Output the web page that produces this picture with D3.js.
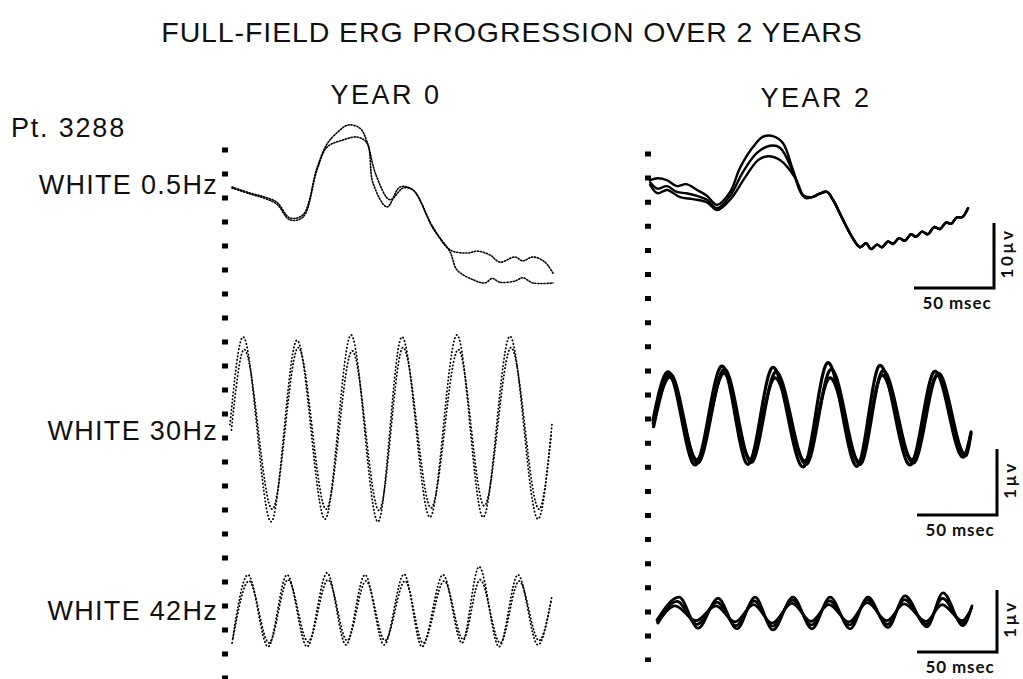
<!DOCTYPE html>
<html>
<head>
<meta charset="utf-8">
<script src="https://cdn.jsdelivr.net/npm/d3@7"></script>
<style>
	html, body { margin: 0; padding: 0; background: #fff; }
	svg { display: block; }
	text { font-family: "Liberation Sans", Arial, Helvetica, sans-serif; fill: #111; }
	.bar-label { font-family: Lato, "Open Sans", sans-serif; font-weight: 700; }
</style>
</head>
<body>
<svg id="erg-chart" width="1023" height="679"></svg>
<script>
// ---- data: [ms after flash, microvolts] ----
var title = 'FULL-FIELD ERG PROGRESSION OVER 2 YEARS';
var yearLabels = ['YEAR 0', 'YEAR 2'];
var patientLabel = 'Pt. 3288';
var rowLabels = ['WHITE 0.5Hz', 'WHITE 30Hz', 'WHITE 42Hz'];
var scaleBarMs = 50;
var scaleBarUv = [10, 1, 1];
var scaleBarUvLabels = ['10µv', '1µv', '1µv'];
var scaleBarMsLabel = '50 msec';

var year0Flash = [
	[[4.4,0.46],[15.6,-0.46],[25,-1.1],[32.5,-1.9],[40.6,-4.3],[48.8,-3.8],[57.5,3.4],[63.8,7.1],[70,8.8],[76.9,10],[84.4,9.5],[88.8,7.4],[94.4,2.3],[103.1,-1.5],[111.3,0.3],[117.5,0],[130,-5.7],[140.6,-9.2],[151.3,-9.7],[158,-9.4],[165.6,-10],[171.9,-11.1],[181.3,-10.3],[186,-10.9],[192.5,-10.3],[200,-11.1],[205,-12.8]],
	[[4.4,0.3],[15.6,-0.6],[25,-1.3],[32.5,-2.2],[40.6,-4.6],[48.8,-4.15],[57.5,3.08],[63.8,6.6],[73.8,7.7],[82.5,8.15],[88.8,7.2],[92.5,1.08],[101.3,-2.6],[109.4,0.46],[117.5,0],[130,-5.9],[140.6,-9.5],[145,-12.3],[155,-13.8],[162.5,-14.3],[167,-13.6],[171.9,-14.2],[181.3,-14],[186,-13.5],[192.5,-14.3],[205,-14.3]]
];

var year2Flash = [
	[[1.3,1.5],[6,1.8],[11.9,1.5],[18,0.6],[24,0.9],[30.6,0],[36.9,-0.9],[43.1,-2.3],[51.3,-0.3],[57.5,3.4],[65.6,6.6],[71.9,8.2],[78.1,8.3],[84.4,7.2],[90.6,3.1],[96.9,-0.8]],
	[[1.3,1.2],[6,0.2],[11.9,0.6],[18,-0.3],[24,-0.5],[30.6,-0.9],[36.9,-1.5],[43.1,-2.8],[51.3,-0.9],[59.4,2.8],[68.1,5.7],[76.3,6.8],[82.5,6.5],[90.6,2.8],[96.9,-0.9]],
	[[1.3,0.8],[6,-0.5],[11.9,0],[20,-1.1],[28,-1.4],[36.9,-1.9],[43.1,-3.1],[51.3,-1.5],[60.6,1.9],[68.8,4.6],[75,5.2],[82.5,4.6],[91.9,1.9],[98.1,-1.2]]
];
var year2FlashTail = [[102.5,-1.1],[107,-0.6],[111.9,-0.3],[115.6,-1.5],[121.9,-4.6],[127.5,-7.2],[132.5,-8.8],[136.3,-8.2],[139.4,-9.1],[143.1,-8.4],[146.3,-8.8],[150,-7.9],[153.1,-8.3],[156.9,-7.4],[160.6,-7.8],[164.4,-6.8],[167.5,-7.2],[171.3,-6.4],[175,-6.8],[178.8,-5.7],[182.5,-6],[186.3,-5],[189.4,-5.2],[193.1,-4.2],[196.3,-4.2],[200,-2.8]];

var year0Flicker30 = [
	[[3.1,0.08],[11.3,1.41],[28.8,-1.39],[45,1.36],[62.5,-1.35],[78.8,1.44],[95.6,-1.39],[110.6,1.41],[128.1,-1.32],[145,1.44],[161.3,-1.32],[178.1,1.42],[195.6,-1.35],[204.4,0.1]],
	[[4,0],[12,1.22],[29.5,-1.2],[45.8,1.25],[63.2,-1.2],[79.5,1.2],[96.3,-1.22],[111.3,1.25],[128.8,-1.18],[145.8,1.22],[162,-1.15],[178.8,1.25],[196.3,-1.2],[204,-0.05]]
];

var year2Flicker30 = [
	[[3.1,0.15],[12.5,0.88],[29.4,-0.53],[46.3,0.97],[62.5,-0.52],[78.1,0.95],[96.9,-0.56],[112.5,1.02],[130.6,-0.55],[145,0.98],[163.8,-0.53],[179.4,0.89],[196.9,-0.41],[201.9,-0.03]],
	[[3.5,0.05],[13.5,0.8],[30.5,-0.45],[47.5,0.86],[63.8,-0.44],[79.4,0.79],[98,-0.47],[113.8,0.79],[132,-0.48],[146.3,0.83],[165,-0.45],[181,0.83],[198,-0.36],[201.5,-0.1]],
	[[3.3,0.1],[13.8,0.85],[31,-0.5],[47.8,0.92],[64.5,-0.49],[80,0.88],[98.8,-0.52],[114.5,0.92],[132.5,-0.52],[147,0.9],[165.8,-0.5],[181.5,0.86],[198.5,-0.39],[201.9,-0.05]]
];

var year0Flicker42 = [
	[[4.4,-0.5],[14.4,0.6],[26.9,-0.56],[38.8,0.6],[51.3,-0.56],[63.8,0.63],[75.6,-0.53],[87.5,0.6],[99.4,-0.53],[111.9,0.61],[123.1,-0.56],[136.3,0.6],[148.1,-0.5],[158.8,0.73],[171.3,-0.56],[183.1,0.6],[195.6,-0.53],[204.4,0.27]],
	[[5,-0.42],[15,0.5],[27.5,-0.5],[39.4,0.52],[51.9,-0.48],[64.4,0.52],[76.3,-0.46],[88.1,0.5],[100,-0.46],[112.5,0.5],[123.8,-0.5],[137,0.5],[148.8,-0.44],[159.4,0.52],[172,-0.5],[183.8,0.5],[196.3,-0.46],[204,0.2]]
];

var year2Flicker42 = [
	[[5.6,-0.13],[19.4,0.24],[31.3,-0.26],[43.8,0.22],[55.6,-0.27],[66.9,0.24],[78.1,-0.29],[90.6,0.24],[102.5,-0.27],[113.8,0.24],[126.3,-0.27],[137.5,0.24],[150,-0.25],[160.6,0.26],[174.4,-0.24],[184.4,0.31],[196.9,-0.22],[202.5,0.1]],
	[[6.2,-0.18],[17,0.1],[30,-0.14],[42.5,0.1],[54.4,-0.16],[66,0.12],[77.5,-0.18],[90,0.14],[101.9,-0.15],[113,0.12],[125.6,-0.16],[137,0.15],[149.4,-0.14],[160,0.13],[173.8,-0.15],[183.8,0.12],[196.3,-0.14],[202,0.05]],
	[[5.9,-0.16],[18.2,0.17],[30.6,-0.2],[43.1,0.16],[55,-0.22],[66.4,0.18],[77.8,-0.23],[90.3,0.19],[102.2,-0.21],[113.4,0.18],[126,-0.21],[137.2,0.2],[149.7,-0.2],[160.3,0.2],[174.1,-0.2],[184.1,0.22],[196.6,-0.18],[202.2,0.07]]
];

window.app = window.app || {};

app.ergChart = (function() {

	'use strict';

	var svg = d3.select('#erg-chart');

	// two columns share the time scale, each row has its own voltage scale
	var xScales = [
		d3.scaleLinear().domain([0, 220]).range([225, 225 + 220 * 1.6]),
		d3.scaleLinear().domain([0, 220]).range([648, 648 + 220 * 1.6])
	];
	var yScales = [
		d3.scaleLinear().domain([0, 10]).range([190, 125]),
		d3.scaleLinear().domain([0, 1]).range([430, 364]),
		d3.scaleLinear().domain([0, 1]).range([612, 550])
	];

	var styles = {
		year0Flash: { width: 1.6, dash: '1.2 1.8', curve: d3.curveCatmullRom.alpha(0.5) },
		year0Flicker: { width: 1.8, dash: '0.4 3.2', curve: d3.curveMonotoneX },
		year2Flash: { width: 2.4, dash: null, curve: d3.curveCatmullRom.alpha(0.5) },
		year2Flicker30: { width: 3.2, dash: '2.6 1', curve: d3.curveMonotoneX },
		year2Flicker42: { width: 2.7, dash: null, curve: d3.curveMonotoneX }
	};

	/**
	* draw a bundle of overlaid sweeps in one panel
	* @returns {undefined}
	*/
	var drawTraces = function(traces, col, row, style) {
		var x = xScales[col],
			y = yScales[row];

		var line = d3.line()
			.x(function(d) { return x(d[0]); })
			.y(function(d) { return y(d[1]); })
			.curve(style.curve);

		svg.append('g')
			.attr('class', 'traces')
			.selectAll('path')
			.data(traces)
			.enter()
			.append('path')
			.attr('d', line)
			.attr('fill', 'none')
			.attr('stroke', '#000')
			.attr('stroke-width', style.width)
			.attr('stroke-linecap', 'round')
			.attr('stroke-linejoin', 'round')
			.attr('stroke-dasharray', style.dash);
	};

	/**
	* dotted stimulus marker down each column
	* @returns {undefined}
	*/
	var drawMarkers = function() {
		var markers = [
			{ col: 0, top: 147.5, bottom: 680, gap: 19 },
			{ col: 1, top: 151.5, bottom: 662, gap: 19.1 }
		];
		svg.append('g')
			.selectAll('line')
			.data(markers)
			.enter()
			.append('line')
			.attr('x1', function(d) { return xScales[d.col](0); })
			.attr('x2', function(d) { return xScales[d.col](0); })
			.attr('y1', function(d) { return d.top; })
			.attr('y2', function(d) { return d.bottom; })
			.attr('stroke', '#000')
			.attr('stroke-width', 6)
			.attr('stroke-dasharray', function(d) { return '5 ' + d.gap; });
	};

	/**
	* L shaped calibration bars on the right
	* @returns {undefined}
	*/
	var drawScaleBars = function() {
		var x = xScales[1],
			corners = [
				{ x: 994, y: 288 },
				{ x: 997, y: 515 },
				{ x: 997, y: 652 }
			];

		corners.forEach(function(c, i) {
			var len = x(scaleBarMs) - x(0),
				h = yScales[i](0) - yScales[i](scaleBarUv[i]),
				g = svg.append('g').attr('class', 'scale-bar');

			g.append('path')
				.attr('d', 'M' + (c.x - len) + ',' + c.y + 'H' + c.x + 'V' + (c.y - h))
				.attr('fill', 'none')
				.attr('stroke', '#000')
				.attr('stroke-width', 3);

			g.append('text')
				.attr('class', 'bar-label')
				.attr('x', c.x - len / 2 + 3)
				.attr('y', c.y + 21)
				.attr('text-anchor', 'middle')
				.attr('font-size', 17)
				.attr('letter-spacing', 0.9)
				.text(scaleBarMsLabel);

			g.append('text')
				.attr('class', 'bar-label')
				.attr('transform', 'translate(' + (c.x + 19) + ',' + (c.y - h / 2 - 2) + ') rotate(-90)')
				.attr('text-anchor', 'middle')
				.attr('font-size', 17)
				.attr('letter-spacing', 2.5)
				.text(scaleBarUvLabels[i]);
		});
	};

	/**
	* titles and row names
	* @returns {undefined}
	*/
	var drawLabels = function() {
		svg.append('text')
			.attr('x', 512)
			.attr('y', 42)
			.attr('text-anchor', 'middle')
			.attr('font-size', 28.5)
			.attr('letter-spacing', 0.9)
			.text(title);

		svg.selectAll('.year-label')
			.data(yearLabels)
			.enter()
			.append('text')
			.attr('class', 'year-label')
			.attr('x', function(d, i) { return [386, 816][i]; })
			.attr('y', function(d, i) { return [104, 107][i]; })
			.attr('text-anchor', 'middle')
			.attr('font-size', 27)
			.attr('letter-spacing', 2.5)
			.text(function(d) { return d; });

		svg.append('text')
			.attr('x', 11)
			.attr('y', 137)
			.attr('font-size', 27)
			.attr('letter-spacing', 1.8)
			.text(patientLabel);

		svg.selectAll('.row-label')
			.data(rowLabels)
			.enter()
			.append('text')
			.attr('class', 'row-label')
			.attr('x', 218)
			.attr('y', function(d, i) { return yScales[i](0) + [4, 10, 8][i]; })
			.attr('text-anchor', 'end')
			.attr('font-size', 27)
			.attr('letter-spacing', 1.3)
			.text(function(d) { return d; });
	};

	var init = function() {
		drawLabels();
		drawMarkers();

		drawTraces(year0Flash, 0, 0, styles.year0Flash);
		drawTraces(year2Flash.map(function(t) { return t.concat(year2FlashTail); }), 1, 0, styles.year2Flash);
		drawTraces(year0Flicker30, 0, 1, styles.year0Flicker);
		drawTraces(year2Flicker30, 1, 1, styles.year2Flicker30);
		drawTraces(year0Flicker42, 0, 2, styles.year0Flicker);
		drawTraces(year2Flicker42, 1, 2, styles.year2Flicker42);

		drawScaleBars();
	};

	return {
		init: init
	};

})();

app.ergChart.init();
</script>
</body>
</html>
